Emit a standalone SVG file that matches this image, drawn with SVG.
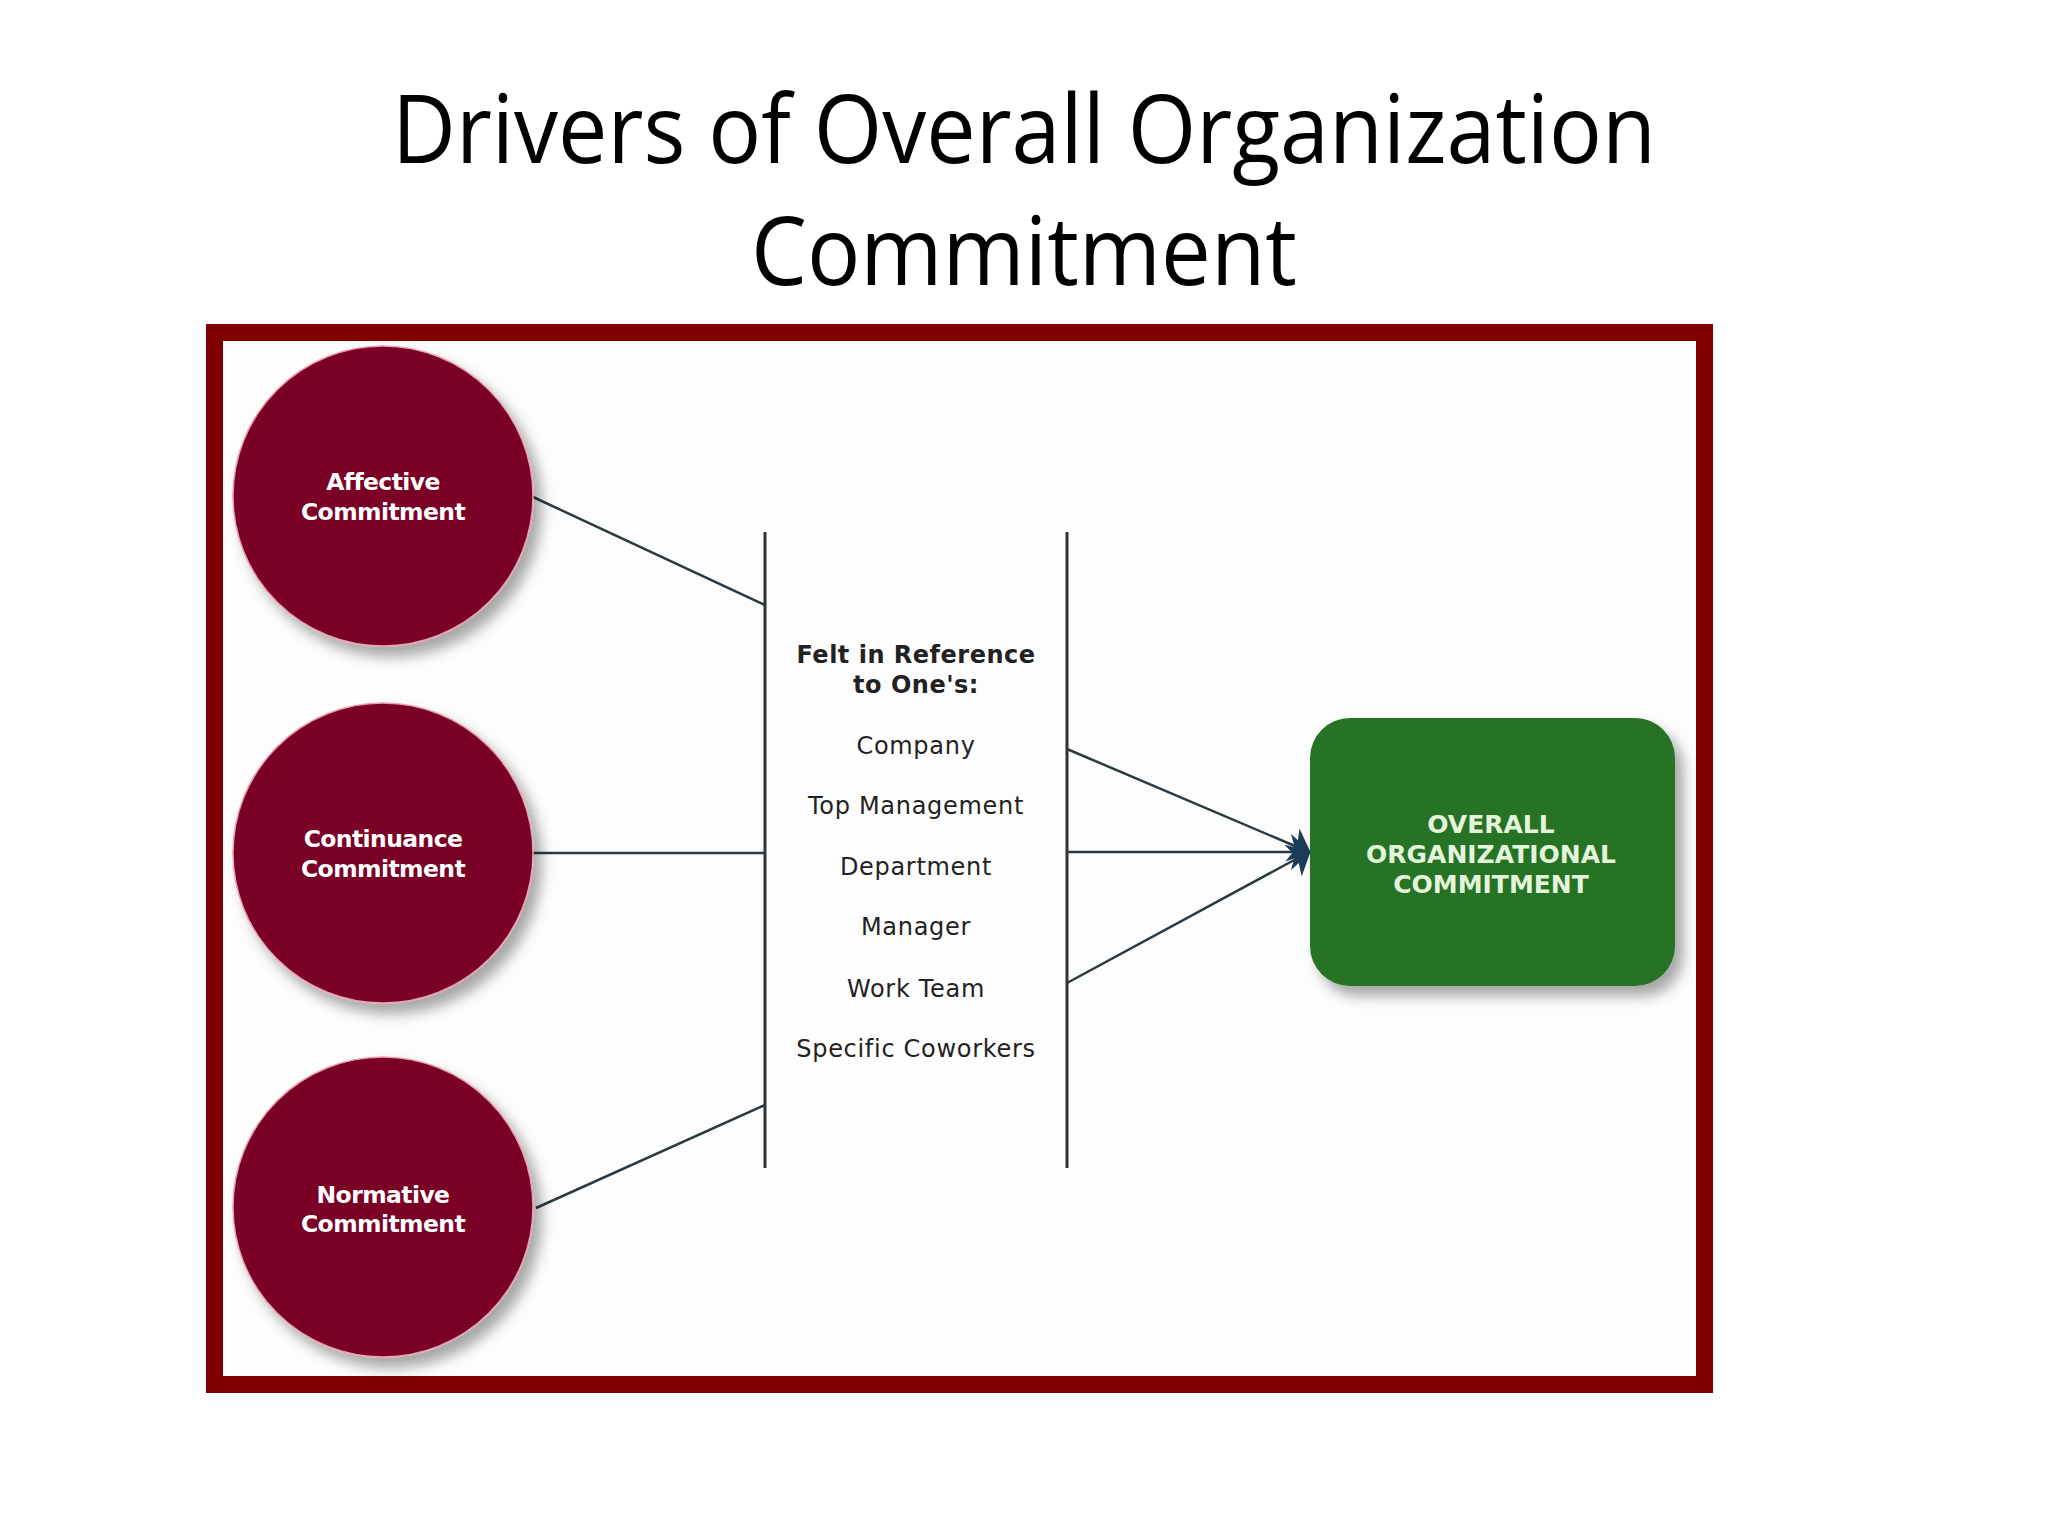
<svg xmlns="http://www.w3.org/2000/svg" width="2048" height="1536" viewBox="0 0 2048 1536">
<defs>
<filter id="shadow" x="-20%" y="-20%" width="150%" height="150%">
<feGaussianBlur in="SourceAlpha" stdDeviation="7"/>
<feOffset dx="8" dy="10" result="b"/>
<feComponentTransfer><feFuncA type="linear" slope="0.35"/></feComponentTransfer>
<feMerge><feMergeNode/><feMergeNode in="SourceGraphic"/></feMerge>
</filter>
<marker id="arrow" viewBox="0 0 20 36" refX="18" refY="18" markerWidth="20" markerHeight="36" markerUnits="userSpaceOnUse" orient="auto">
<path d="M0,0 L20,18 L0,36 L5,18 Z" fill="#1c3d5a"/>
</marker>
</defs>
<style>
.title{font-family:"Open Sans","Noto Sans","Liberation Sans",sans-serif;font-size:96px;fill:#000;text-anchor:middle}
.circ{fill:#7a0028;stroke:#e8a0b0;stroke-width:1.5}
.ctext{font-family:"DejaVu Sans","Liberation Sans",sans-serif;font-weight:bold;font-size:23.5px;fill:#fff;text-anchor:middle;letter-spacing:-0.6px}
.mid{font-family:"DejaVu Sans","Liberation Sans",sans-serif;font-size:24px;fill:#222;text-anchor:middle;letter-spacing:0.7px}
.midb{font-weight:bold;letter-spacing:0.5px}
.gtext{font-family:"DejaVu Sans","Liberation Sans",sans-serif;font-weight:bold;font-size:25px;fill:#e4f5dc;text-anchor:middle}
.conn{stroke:#2b3a40;stroke-width:2.5;fill:none}
.bar{stroke:#333;stroke-width:3;fill:none}
</style>
<rect width="2048" height="1536" fill="#ffffff"/>
<g id="title">
<text class="title" x="1024" y="163" textLength="1264" lengthAdjust="spacingAndGlyphs">Drivers of Overall Organization</text>
<text class="title" x="1024" y="285" textLength="546" lengthAdjust="spacingAndGlyphs">Commitment</text>
</g>
<g id="frame">
<rect x="214.5" y="332.5" width="1490" height="1052" fill="#fdfdfd" stroke="#7f0000" stroke-width="17"/>
</g>
<g id="connectors">
<line class="conn" x1="533" y1="497" x2="765" y2="605"/>
<line class="conn" x1="533" y1="853" x2="765" y2="853"/>
<line class="conn" x1="536" y1="1208" x2="765" y2="1105"/>
<line class="bar" x1="765" y1="532" x2="765" y2="1168"/>
<line class="bar" x1="1067" y1="532" x2="1067" y2="1168"/>
<line class="conn" x1="1067" y1="749" x2="1309" y2="852" marker-end="url(#arrow)"/>
<line class="conn" x1="1067" y1="852" x2="1309" y2="852" marker-end="url(#arrow)"/>
<line class="conn" x1="1067" y1="983" x2="1309" y2="852" marker-end="url(#arrow)"/>
</g>
<g id="affective">
<circle class="circ" cx="383" cy="496" r="150" filter="url(#shadow)"/>
<text class="ctext" x="383" y="490">Affective</text>
<text class="ctext" x="383" y="520">Commitment</text>
</g>
<g id="continuance">
<circle class="circ" cx="383" cy="853" r="150" filter="url(#shadow)"/>
<text class="ctext" x="383" y="847">Continuance</text>
<text class="ctext" x="383" y="877">Commitment</text>
</g>
<g id="normative">
<circle class="circ" cx="383" cy="1207" r="150" filter="url(#shadow)"/>
<text class="ctext" x="383" y="1203">Normative</text>
<text class="ctext" x="383" y="1232">Commitment</text>
</g>
<g id="reference">
<text class="mid midb" x="916" y="663">Felt in Reference</text>
<text class="mid midb" x="916" y="693">to One's:</text>
<text class="mid" x="916" y="754">Company</text>
<text class="mid" x="916" y="814">Top Management</text>
<text class="mid" x="916" y="875">Department</text>
<text class="mid" x="916" y="935">Manager</text>
<text class="mid" x="916" y="997">Work Team</text>
<text class="mid" x="916" y="1057">Specific Coworkers</text>
</g>
<g id="overall">
<rect x="1310" y="718" width="365" height="268" rx="40" ry="40" fill="#267326" filter="url(#shadow)"/>
<text class="gtext" x="1491" y="833">OVERALL</text>
<text class="gtext" x="1491" y="863">ORGANIZATIONAL</text>
<text class="gtext" x="1491" y="893">COMMITMENT</text>
</g>
</svg>
